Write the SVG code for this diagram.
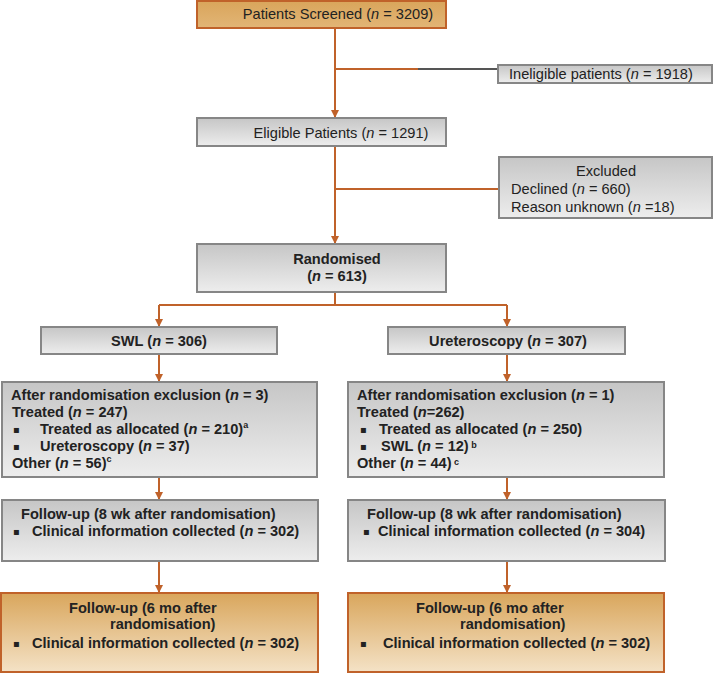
<svg xmlns="http://www.w3.org/2000/svg" width="714" height="673" viewBox="0 0 714 673">
<style>
text{font-family:"Liberation Sans",Arial,sans-serif;font-size:14.6px;fill:#222}
.b{font-weight:bold;font-size:14.6px}
.gray{fill:url(#gg);stroke:#868686;stroke-width:2}
.org{fill:url(#og);stroke:#c0622a;stroke-width:2}
.c{fill:none;stroke:#c0622a;stroke-width:2}
.a{marker-end:url(#ah)}
.sup{font-size:9px}
.mid{text-anchor:middle}
.bul{font-size:10px;font-family:"DejaVu Sans",sans-serif}
</style>
<defs>
<linearGradient id="gg" x1="0" y1="0" x2="0" y2="1"><stop offset="0" stop-color="#c6c6c6"/><stop offset="1" stop-color="#ededed"/></linearGradient>
<linearGradient id="og" x1="0" y1="0" x2="0" y2="1"><stop offset="0" stop-color="#d9a65c"/><stop offset="1" stop-color="#f4e2c6"/></linearGradient>
<linearGradient id="ot" x1="0" y1="0" x2="0" y2="1"><stop offset="0" stop-color="#d9a55b"/><stop offset="1" stop-color="#e2b576"/></linearGradient>
<marker id="ah" markerWidth="8" markerHeight="8" refX="7" refY="4" orient="auto" markerUnits="userSpaceOnUse"><path d="M0,0 L8,4 L0,8 Z" fill="#c0622a"/></marker>
</defs>

<g id="connectors">
<path class="c a" d="M335,28 V117"/>
<path class="c" d="M335,69 H418"/>
<path d="M418,69 H498" stroke="#555" stroke-width="2"/>
<path class="c a" d="M335,146 V243"/>
<path class="c" d="M335,189 H499"/>
<path class="c" d="M335,292 V305 M159,305 H507"/>
<path class="c a" d="M159,305 V326"/>
<path class="c a" d="M507,305 V326"/>
<path class="c a" d="M159,354 V381"/>
<path class="c a" d="M507,354 V381"/>
<path class="c a" d="M159,477 V499"/>
<path class="c a" d="M507,477 V499"/>
<path class="c a" d="M159,561 V592"/>
<path class="c a" d="M507,561 V592"/>
</g>

<g id="screened">
<rect x="197" y="1" width="249" height="27" fill="url(#ot)" stroke="#c0622a" stroke-width="2"/>
<text x="338" y="19" class="mid">Patients Screened  (<tspan font-style="italic">n</tspan> = 3209)</text>
</g>

<g id="ineligible">
<rect x="498" y="65" width="214" height="18" class="gray"/>
<text x="509" y="79">Ineligible  patients (<tspan font-style="italic">n</tspan> = 1918)</text>
</g>

<g id="eligible">
<rect x="197" y="118" width="249" height="28" class="gray"/>
<text x="341" y="138" class="mid">Eligible Patients (<tspan font-style="italic">n</tspan> = 1291)</text>
</g>

<g id="excluded">
<rect x="499" y="157" width="213" height="61" class="gray"/>
<text x="606" y="176" class="mid">Excluded</text>
<text x="511" y="194">Declined (<tspan font-style="italic">n</tspan> = 660)</text>
<text x="511" y="212">Reason unknown  (<tspan font-style="italic">n</tspan> =18)</text>
</g>

<g id="randomised">
<rect x="197" y="244" width="249" height="48" class="gray"/>
<text x="337" y="264" class="mid b">Randomised</text>
<text x="337" y="281" class="mid b">(<tspan font-style="italic">n</tspan> = 613)</text>
</g>

<g id="swl">
<rect x="41" y="327" width="236" height="27" class="gray"/>
<text x="159" y="346" class="mid b">SWL (<tspan font-style="italic">n</tspan> = 306)</text>
</g>

<g id="ureteroscopy">
<rect x="388" y="327" width="237" height="27" class="gray"/>
<text x="508" y="346" class="mid b">Ureteroscopy  (<tspan font-style="italic">n</tspan> = 307)</text>
</g>

<g id="swl-after">
<rect x="2" y="382" width="315" height="95" class="gray"/>
<text x="11" y="400" class="b">After  randomisation  exclusion  (<tspan font-style="italic">n</tspan> = 3)</text>
<text x="12" y="417" class="b">Treated (<tspan font-style="italic">n</tspan> = 247)</text>
<text x="13" y="433" class="bul">▪</text><text x="40" y="434" class="b">Treated as allocated (<tspan font-style="italic">n</tspan> = 210)<tspan class="sup" dy="-6">a</tspan></text>
<text x="13" y="450" class="bul">▪</text><text x="40" y="451" class="b">Ureteroscopy  (<tspan font-style="italic">n</tspan> = 37)</text>
<text x="12" y="468" class="b">Other (<tspan font-style="italic">n</tspan> = 56)<tspan class="sup" dy="-6">c</tspan></text>
</g>

<g id="ure-after">
<rect x="348" y="382" width="316" height="95" class="gray"/>
<text x="357" y="400" class="b">After  randomisation  exclusion  (<tspan font-style="italic">n</tspan> = 1)</text>
<text x="357" y="417" class="b">Treated (<tspan font-style="italic">n</tspan>=262)</text>
<text x="360" y="433" class="bul">▪</text><text x="379" y="434" class="b">Treated as allocated (<tspan font-style="italic">n</tspan> = 250)</text>
<text x="360" y="450" class="bul">▪</text><text x="381" y="451" class="b">SWL (<tspan font-style="italic">n</tspan> = 12)<tspan class="sup" dy="-3"> b</tspan></text>
<text x="357" y="468" class="b">Other (<tspan font-style="italic">n</tspan> = 44)<tspan class="sup" dy="-3"> c</tspan></text>
</g>

<g id="swl-fu8">
<rect x="2" y="500" width="316" height="61" class="gray"/>
<text x="21" y="519" class="b">Follow-up (8  wk after  randomisation)</text>
<text x="13" y="535" class="bul">▪</text><text x="32" y="536" class="b">Clinical information collected (<tspan font-style="italic">n</tspan> = 302)</text>
</g>

<g id="ure-fu8">
<rect x="348" y="500" width="317" height="61" class="gray"/>
<text x="367" y="519" class="b">Follow-up (8 wk after randomisation)</text>
<text x="363" y="535" class="bul">▪</text><text x="378" y="536" class="b">Clinical information collected (<tspan font-style="italic">n</tspan> = 304)</text>
</g>

<g id="swl-fu6">
<rect x="1" y="593" width="317" height="79" class="org"/>
<text x="69" y="613" class="b">Follow-up (6 mo after</text>
<text x="110" y="629" class="b">randomisation)</text>
<text x="13" y="647" class="bul">▪</text><text x="32" y="648" class="b">Clinical information collected (<tspan font-style="italic">n</tspan> = 302)</text>
</g>

<g id="ure-fu6">
<rect x="348" y="593" width="316" height="79" class="org"/>
<text x="416" y="613" class="b">Follow-up (6 mo after</text>
<text x="460" y="629" class="b">randomisation)</text>
<text x="360" y="647" class="bul">▪</text><text x="383" y="648" class="b">Clinical information collected (<tspan font-style="italic">n</tspan> = 302)</text>
</g>
</svg>
